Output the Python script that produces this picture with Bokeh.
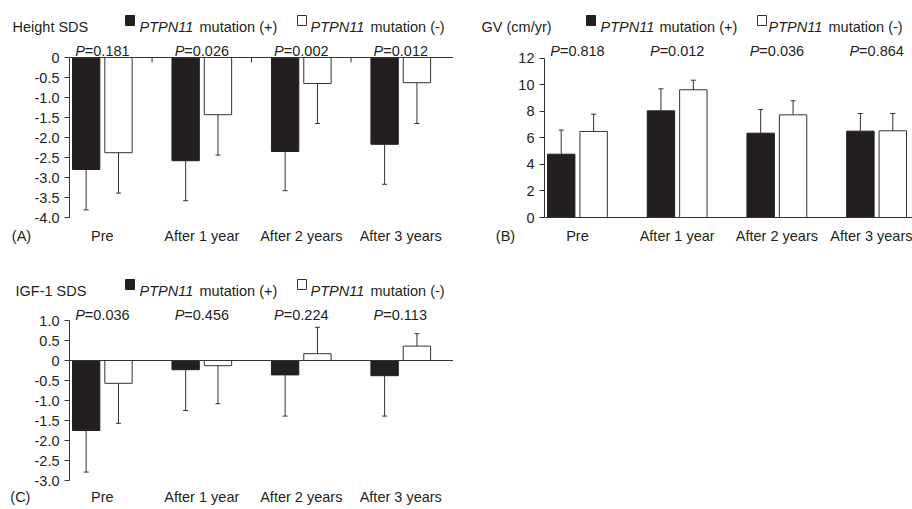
import numpy as np
from bokeh.plotting import figure
from bokeh.models import Range1d, FixedTicker, Label, Span
from bokeh.layouts import column, row
from bokeh.embed import file_html
from bokeh.resources import INLINE

categories = ["Pre", "After 1 year", "After 2 years", "After 3 years"]
series_italic = "PTPN11"
series_suffix = ["mutation (+)", "mutation (-)"]

height_pos_mean = [-2.80, -2.58, -2.35, -2.17]
height_pos_sd = [1.01, 1.00, 0.98, 1.00]
height_neg_mean = [-2.38, -1.43, -0.65, -0.63]
height_neg_sd = [1.01, 1.01, 1.00, 1.02]
height_p = ["0.181", "0.026", "0.002", "0.012"]
height_ticks = [0, -0.5, -1.0, -1.5, -2.0, -2.5, -3.0, -3.5, -4.0]

gv_pos_mean = [4.77, 8.03, 6.35, 6.50]
gv_pos_sd = [1.81, 1.66, 1.78, 1.33]
gv_neg_mean = [6.48, 9.62, 7.73, 6.53]
gv_neg_sd = [1.30, 0.72, 1.06, 1.30]
gv_p = ["0.818", "0.012", "0.036", "0.864"]
gv_ticks = [0, 2, 4, 6, 8, 10, 12]

igf_pos_mean = [-1.75, -0.23, -0.36, -0.38]
igf_pos_sd = [1.04, 1.02, 1.03, 1.01]
igf_neg_mean = [-0.57, -0.13, 0.17, 0.36]
igf_neg_sd = [1.00, 0.95, 0.66, 0.31]
igf_p = ["0.036", "0.456", "0.224", "0.113"]
igf_ticks = [1.0, 0.5, 0, -0.5, -1.0, -1.5, -2.0, -2.5, -3.0]

FONT = "Liberation Sans"
FS = "14.5px"
TXT = "#231f20"
LINE = "#333333"
BAR = "#231f20"


def lab(p, x, y, text, xo=0, yo=0, align="left", italic=False):
    p.add_layout(Label(x=x, y=y, x_offset=xo, y_offset=yo, text=text,
                       text_font=FONT, text_font_size=FS,
                       text_font_style="italic" if italic else "normal",
                       text_color=TXT, text_align=align,
                       text_baseline="alphabetic"))


def style_xaxis(xa, ticks, names, standoff, line):
    xa.ticker = FixedTicker(ticks=list(ticks))
    xa.major_label_overrides = dict(zip(ticks, names))
    xa.major_tick_line_color = None
    xa.minor_tick_line_color = None
    xa.major_tick_out = 0
    xa.major_tick_in = 0
    xa.major_label_standoff = standoff
    xa.major_label_text_font = FONT
    xa.major_label_text_font_size = FS
    xa.major_label_text_color = TXT
    xa.axis_line_color = LINE if line else None


def strip(width, height, bb=0, with_x=False):
    s = figure(width=width, height=height, x_range=Range1d(0, width),
               y_range=Range1d(0, height), output_backend="svg",
               toolbar_location=None,
               x_axis_location="below" if with_x else None,
               y_axis_location=None, min_border_left=0, min_border_right=0,
               min_border_top=0, min_border_bottom=bb)
    s.outline_line_color = None
    s.grid.visible = False
    s.border_fill_color = "white"
    return s


def legend_strip(width, height, title, pos, base):
    # pos: (title_x, sq1_x, it1_x, n1_x, sq2_x, it2_x, n2_x); base: baseline
    s = strip(width, height)
    tx, sq1, it1, n1, sq2, it2, n2 = pos
    lab(s, tx, base, title)
    s.rect(x=[sq1 + 4.5], y=[base + 6], width=9, height=10, fill_color=BAR,
           line_color=BAR)
    s.rect(x=[sq2 + 4.5], y=[base + 6], width=9, height=10, fill_color="white",
           line_color=LINE, line_width=1)
    lab(s, it1, base, series_italic, italic=True)
    lab(s, n1, base, series_suffix[0])
    lab(s, it2, base, series_italic, italic=True)
    lab(s, n2, base, series_suffix[1])
    return s


def letter_strip(width, height, bb, letter, xc, standoff):
    s = strip(width, height, bb=bb, with_x=True)
    style_xaxis(s.xaxis[0], [xc], [letter], standoff, False)
    return s


def panel(pos_mean, pos_sd, neg_mean, neg_sd, pvals, ticks, width, height,
          bl, bb, x_end, y_top, zero_mode, fmt, ystand, xstand, pdy):
    ymin, ymax = min(ticks), max(ticks)
    p = figure(width=width, height=height, x_range=Range1d(-0.33, x_end),
               y_range=Range1d(ymin, y_top), output_backend="svg",
               toolbar_location=None, min_border_left=bl, min_border_right=0,
               min_border_top=0, min_border_bottom=bb)
    p.outline_line_color = None
    p.grid.visible = False
    p.border_fill_color = "white"

    xs = np.arange(len(categories))
    pos_mean = np.array(pos_mean)
    neg_mean = np.array(neg_mean)
    pos_end = pos_mean + np.sign(pos_mean) * np.array(pos_sd)
    neg_end = neg_mean + np.sign(neg_mean) * np.array(neg_sd)
    off, bw = 0.1625, 0.275

    if zero_mode != "bottom":
        p.add_layout(Span(location=0, dimension="width", line_color=LINE,
                          line_width=1))
    if zero_mode == "top":
        p.ray(x=xs[:-1] + 0.5, y=0, length=5, length_units="screen",
              angle=-np.pi / 2, line_color=LINE, line_width=1)

    p.vbar(x=xs - off, top=0, bottom=pos_mean, width=bw, fill_color=BAR,
           line_color=BAR, line_width=1)
    p.vbar(x=xs + off, top=0, bottom=neg_mean, width=bw, fill_color="white",
           line_color=LINE, line_width=1)
    for xx, m, e in ((xs - off, pos_mean, pos_end), (xs + off, neg_mean, neg_end)):
        p.segment(x0=xx, y0=m, x1=xx, y1=e, line_color=LINE, line_width=1)
        p.scatter(x=xx, y=e, marker="dash", size=5, line_color=LINE,
                  line_width=1)

    style_xaxis(p.xaxis[0], [int(i) for i in xs], categories, xstand,
                zero_mode == "bottom")

    ya = p.yaxis[0]
    ya.ticker = FixedTicker(ticks=ticks)
    ya.bounds = (ymin, ymax)
    ya.major_label_overrides = {t: fmt(t) for t in ticks}
    ya.major_tick_out = 5
    ya.major_tick_in = 0
    ya.minor_tick_line_color = None
    ya.axis_line_color = LINE
    ya.major_tick_line_color = LINE
    ya.major_label_standoff = ystand
    ya.major_label_text_font = FONT
    ya.major_label_text_font_size = FS
    ya.major_label_text_color = TXT

    for i, pv in enumerate(pvals):
        lab(p, float(xs[i]), ymax, "P", -17.5, pdy, align="right", italic=True)
        lab(p, float(xs[i]), ymax, "=" + pv, -17.5, pdy)
    return p


def fmt_dec(t):
    return "0" if t == 0 else f"{t:.1f}"


def fmt_int(t):
    return str(int(t))


XS_AB = 10   # standoff of category labels, panels A/B
XS_C = 8     # standoff of category labels, panel C

# ---- row 1: legends (page y 0..36)
topA = legend_strip(453, 36, "Height SDS",
                    (12, 125, 139, 199, 297, 310, 370), 10)
topB = legend_strip(459, 36, "GV (cm/yr)",
                    (481 - 453, 586 - 453, 600 - 453, 659 - 453,
                     757 - 453, 768 - 453, 828 - 453), 10)

# ---- row 2: panels A and B (page y 36..252)
leftA = letter_strip(31, 216, 35, "(A)", 21, XS_AB)
pA = panel(height_pos_mean, height_pos_sd, height_neg_mean, height_neg_sd,
           height_p, height_ticks, 422, 216, 36, 35, 3.53, 0.525, "top",
           fmt_dec, 5, XS_AB, 7)
leftB = letter_strip(62, 216, 35, "(B)", 52, XS_AB)
pB = panel(gv_pos_mean, gv_pos_sd, gv_neg_mean, gv_neg_sd, gv_p, gv_ticks,
           397, 216, 27, 35, 3.36, 13.63, "bottom", fmt_int, 5, XS_AB, 7)

# ---- row 3: legend C (page y 252..300)
topC = legend_strip(453, 48, "IGF-1 SDS",
                    (15, 125, 139, 199, 297, 310, 370), 10)

# ---- row 4: panel C (page y 300..509)
leftC = letter_strip(31, 209, 29, "(C)", 22, XS_C)
pC = panel(igf_pos_mean, igf_pos_sd, igf_neg_mean, igf_neg_sd, igf_p,
           igf_ticks, 422, 209, 36, 29, 3.53, 1.5, "middle", fmt_dec, 5,
           XS_C, 6)

layout = column(row(topA, topB), row(leftA, pA, leftB, pB), topC,
                row(leftC, pC))
open("out.html", "w").write(file_html(layout, INLINE))
